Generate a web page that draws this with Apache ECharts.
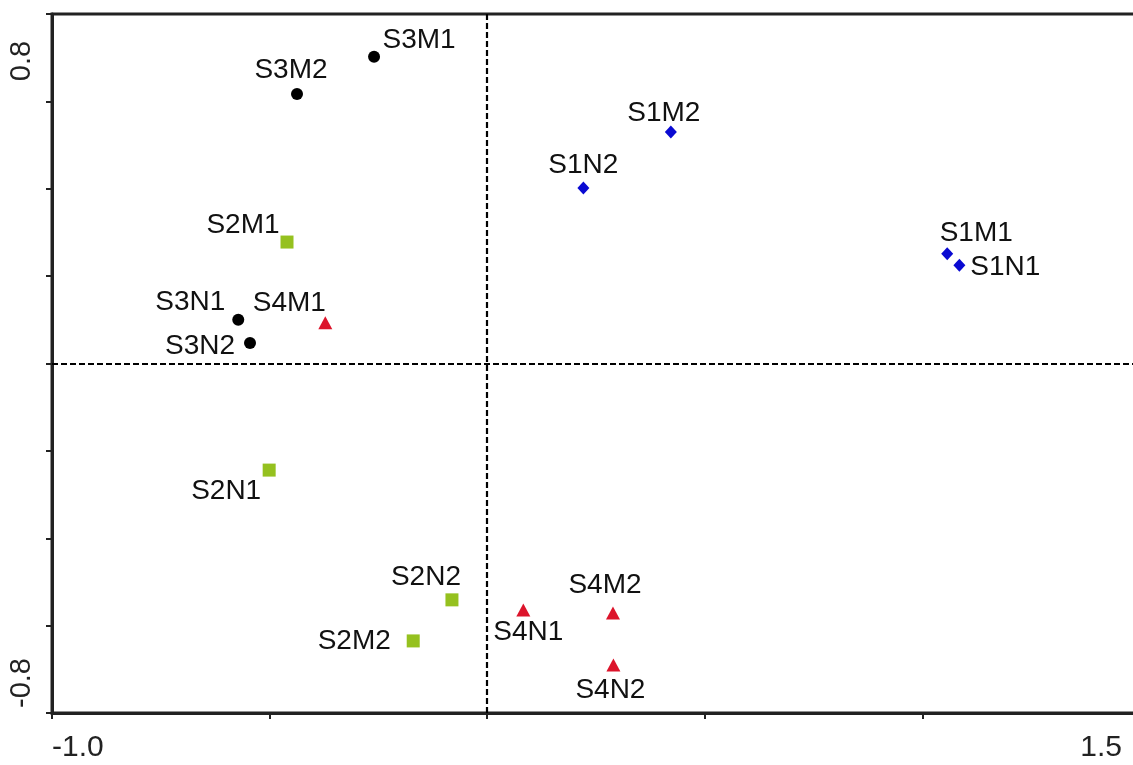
<!DOCTYPE html>
<html>
<head>
<meta charset="utf-8">
<script src="https://cdn.jsdelivr.net/npm/echarts@6/dist/echarts.min.js"></script>
<style>
html,body{margin:0;padding:0;background:#fff;}
#chart{width:1133px;height:765px;}
</style>
</head>
<body>
<div id="chart"></div>
<script>
// ---- data ----
const s1Names = ['S1M1', 'S1N1', 'S1M2', 'S1N2'];
const s1X = [1.057, 1.085, 0.422, 0.221];
const s1Y = [0.251, 0.225, 0.530, 0.402];

const s2Names = ['S2M1', 'S2N1', 'S2N2', 'S2M2'];
const s2X = [-0.460, -0.501, -0.081, -0.170];
const s2Y = [0.278, -0.244, -0.541, -0.635];

const s3Names = ['S3M1', 'S3M2', 'S3N1', 'S3N2'];
const s3X = [-0.260, -0.437, -0.572, -0.545];
const s3Y = [0.702, 0.617, 0.100, 0.047];

const s4Names = ['S4M1', 'S4N1', 'S4M2', 'S4N2'];
const s4X = [-0.372, 0.083, 0.289, 0.290];
const s4Y = [0.093, -0.564, -0.571, -0.690];

const xTickLabels = ['-1.0', '1.5'];
const yTickLabels = ['-0.8', '0.8'];

// ---- label placement (style) ----
const labelOffsets = {
  S1M1: [29, -21], S1N1: [46, 2], S1M2: [-7, -19], S1N2: [0, -23],
  S2M1: [-44, -17], S2N1: [-43, 21], S2N2: [-26, -23], S2M2: [-59, 0],
  S3M1: [45, -17], S3M2: [-6, -24], S3N1: [-48, -18], S3N2: [-50, 3],
  S4M1: [-36, -20], S4N1: [5, 22], S4M2: [-8, -28], S4N2: [-3, 25]
};

const FONT = "'Liberation Sans', Arial, sans-serif";

function buildData(names, xs, ys) {
  return names.map((n, i) => ({
    name: n,
    value: [xs[i], ys[i]],
    label: { offset: labelOffsets[n] }
  }));
}

function makeSeries(name, names, xs, ys, symbol, size, color) {
  return {
    name: name,
    type: 'scatter',
    symbol: symbol,
    symbolSize: size,
    itemStyle: { color: color, opacity: 1 },
    data: buildData(names, xs, ys),
    label: {
      show: true,
      position: 'inside',
      formatter: p => p.name,
      color: '#111',
      fontFamily: FONT,
      fontSize: 28,
      align: 'center',
      verticalAlign: 'middle'
    },
    emphasis: { disabled: true },
    z: 5
  };
}

const chart = echarts.init(document.getElementById('chart'), null, { renderer: 'canvas' });

const series = [
  makeSeries('S1', s1Names, s1X, s1Y, 'diamond', [12, 13], '#0a0ad2'),
  makeSeries('S2', s2Names, s2X, s2Y, 'rect', 13, '#95c11f'),
  makeSeries('S3', s3Names, s3X, s3Y, 'circle', 12, '#000000'),
  makeSeries('S4', s4Names, s4X, s4Y, 'triangle', [14, 13], '#dc142b')
];
series[0].markLine = {
  silent: true,
  symbol: 'none',
  label: { show: false },
  lineStyle: { color: '#000', width: 2.2, type: [6, 3] },
  data: [{ xAxis: 0 }, { yAxis: 0 }],
  z: 1
};

chart.setOption({
  animation: false,
  backgroundColor: '#ffffff',
  grid: {
    left: 52, top: 14, right: -7, bottom: 52,
    outerBoundsMode: 'none',
    containLabel: false,
    show: true, borderColor: '#222', borderWidth: 3, backgroundColor: 'transparent'
  },
  xAxis: {
    type: 'value',
    min: -1.0, max: 1.5, interval: 0.5,
    axisLine: { show: true, onZero: false, lineStyle: { color: '#222', width: 3 } },
    axisTick: { show: true, length: 6, lineStyle: { color: '#222', width: 2 } },
    splitLine: { show: false },
    axisLabel: {
      showMinLabel: true, showMaxLabel: true,
      margin: 20,
      color: '#222', fontFamily: FONT, fontSize: 30,
      alignMinLabel: 'left', alignMaxLabel: 'right',
      formatter: v => {
        if (Math.abs(v + 1.0) < 1e-6) return '{a|' + xTickLabels[0] + '}';
        if (Math.abs(v - 1.5) < 1e-6) return '{b|' + xTickLabels[1] + '}';
        return '';
      },
      rich: {
        a: { fontFamily: FONT, fontSize: 30, color: '#222' },
        b: { fontFamily: FONT, fontSize: 30, color: '#222', padding: [0, 18, 0, 0] }
      }
    }
  },
  yAxis: {
    type: 'value',
    min: -0.8, max: 0.8, interval: 0.2,
    axisLine: { show: true, onZero: false, lineStyle: { color: '#222', width: 3 } },
    axisTick: { show: true, length: 6, lineStyle: { color: '#222', width: 2 } },
    splitLine: { show: false },
    axisLabel: {
      showMinLabel: true, showMaxLabel: true,
      rotate: 90,
      margin: 16,
      color: '#222', fontFamily: FONT, fontSize: 29,
      formatter: v => {
        if (Math.abs(v + 0.8) < 1e-6) return '{a|' + yTickLabels[0] + '}';
        if (Math.abs(v - 0.8) < 1e-6) return '{b|' + yTickLabels[1] + '}';
        return '';
      },
      rich: {
        a: { fontFamily: FONT, fontSize: 29, color: '#222', padding: [0, 0, 0, 60] },
        b: { fontFamily: FONT, fontSize: 29, color: '#222', padding: [0, 94, 0, 0] }
      }
    }
  },
  series: series
});
</script>
</body>
</html>
